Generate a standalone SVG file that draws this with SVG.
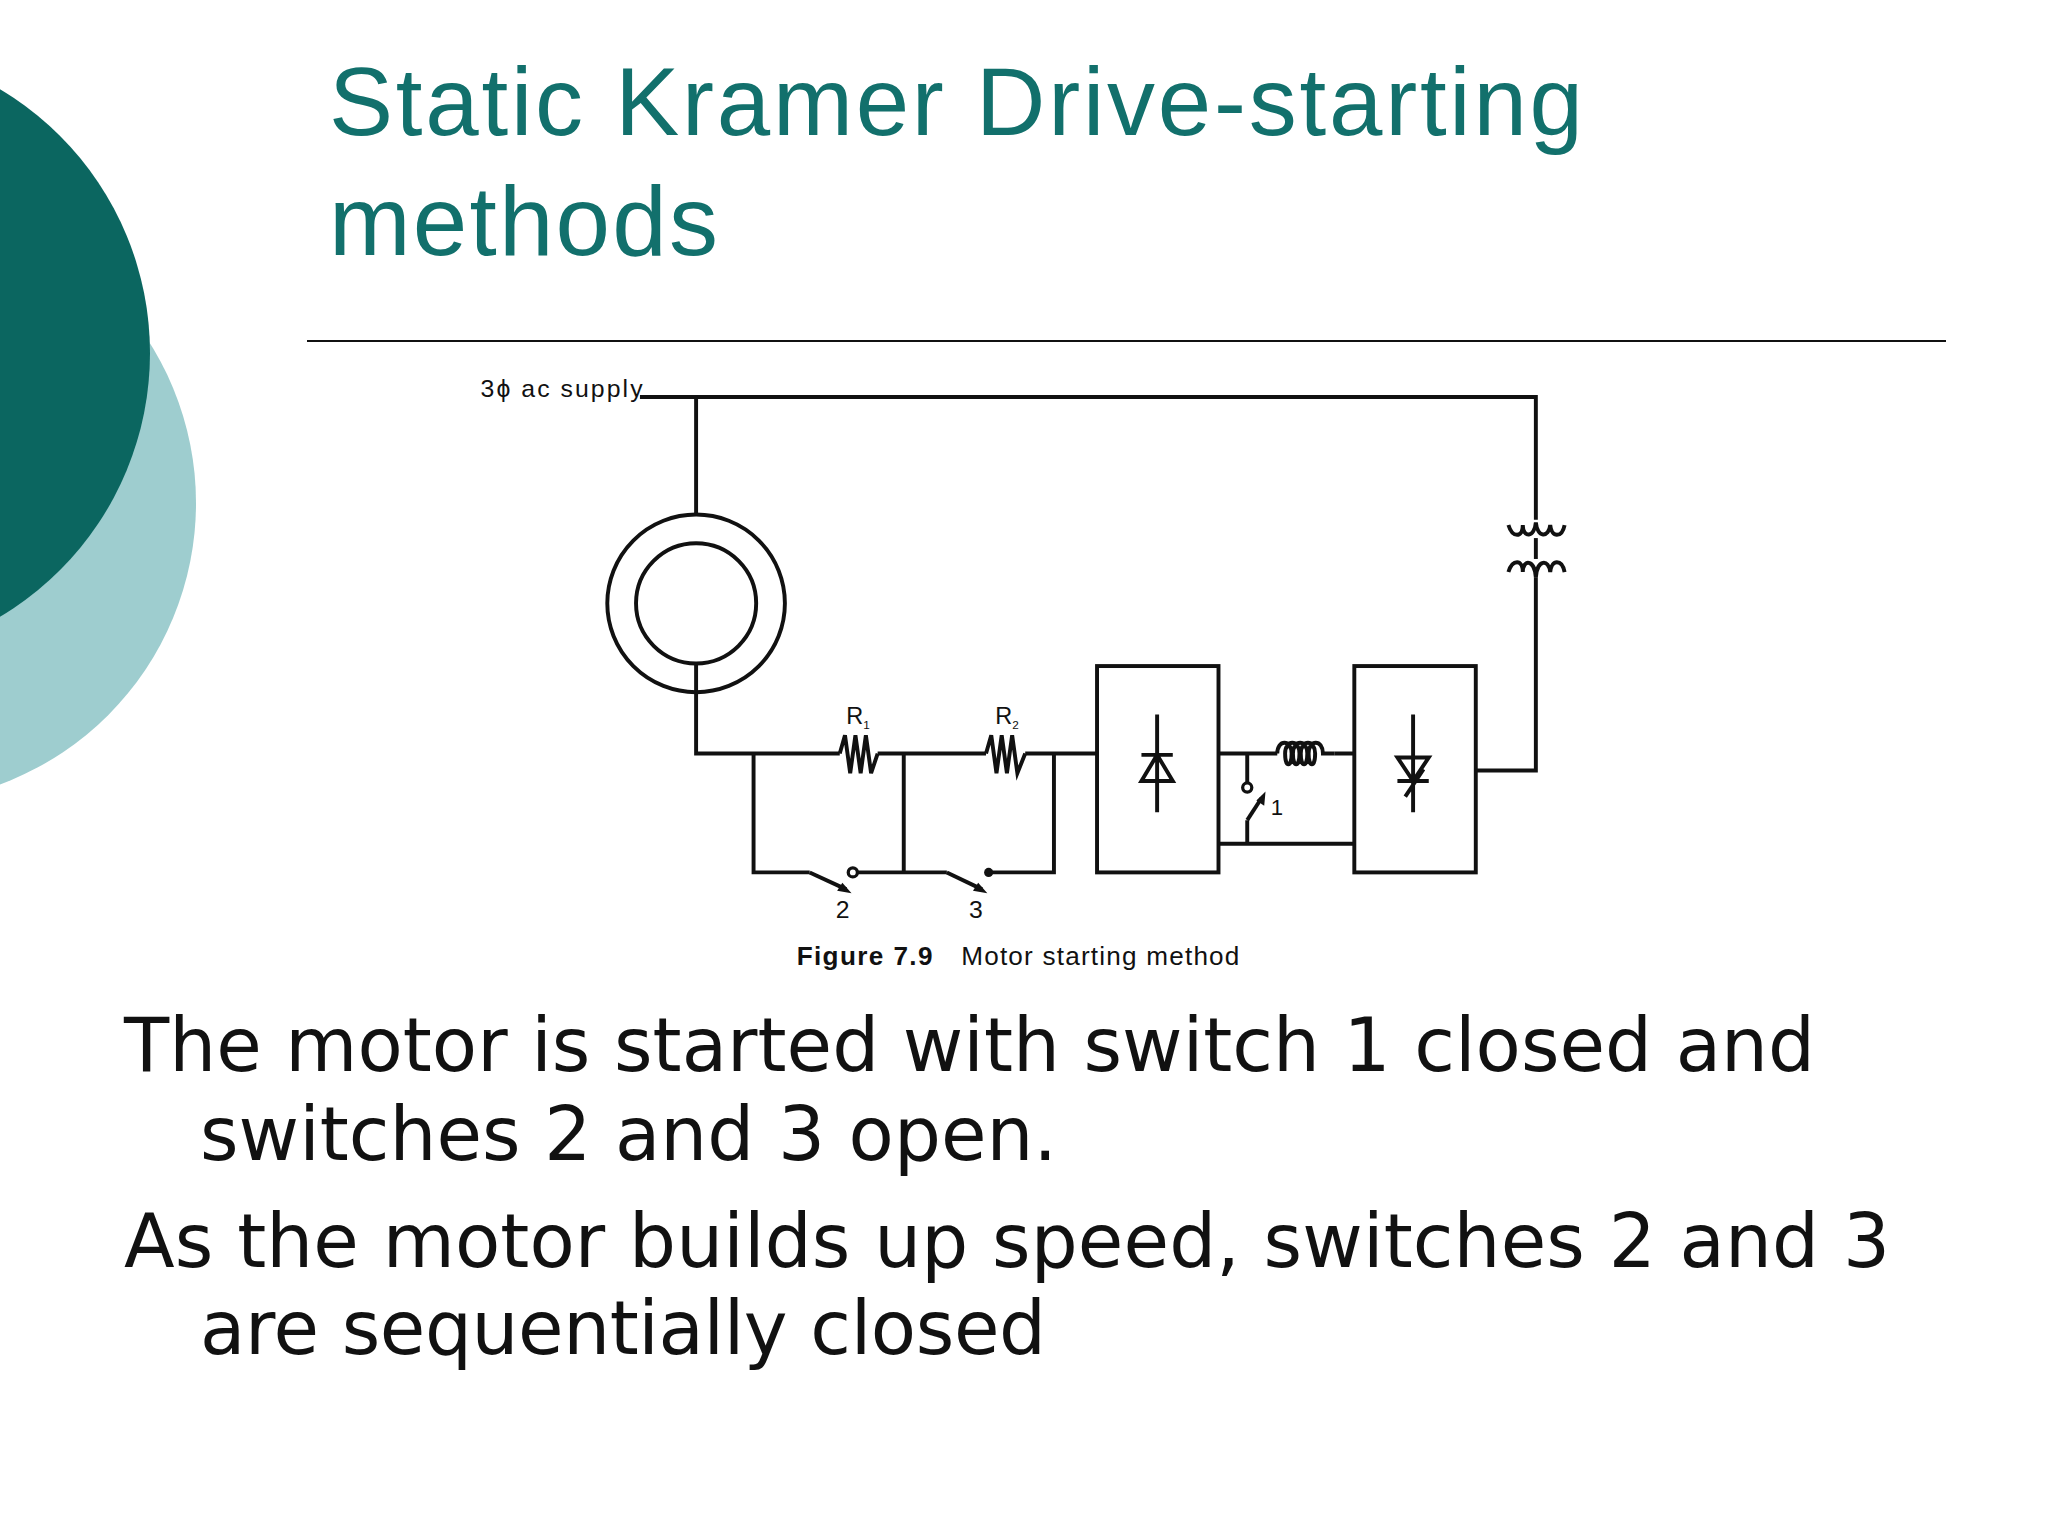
<svg xmlns="http://www.w3.org/2000/svg" width="2048" height="1536" viewBox="0 0 2048 1536">
<style>
.w{fill:none;stroke:#111;stroke-width:3;stroke-linejoin:miter}
.t{font-family:"Liberation Sans",Arial,sans-serif;fill:#111}
.b{font-family:"DejaVu Sans",sans-serif;fill:#111;font-size:74px}
</style>
<rect width="2048" height="1536" fill="#fff"/>
<circle cx="-104" cy="503" r="300" fill="#9ecdcf"/>
<circle cx="-157" cy="353" r="307" fill="#0b6660"/>
<text x="329" y="135" font-family="Liberation Sans,Arial,sans-serif" font-size="96" fill="#12706c" textLength="1254">Static Kramer Drive-starting</text>
<text x="329" y="255" font-family="Liberation Sans,Arial,sans-serif" font-size="98" fill="#12706c" textLength="389">methods</text>
<line x1="307" y1="341" x2="1946" y2="341" stroke="#111" stroke-width="2"/>
<g transform="scale(1.306)">
<g id="connectors">
<path class="w" d="M490 304H1176V398M1176 442V590H1130"/>
<path class="w" d="M533 304V395M533 508V577H643M672 577H755M785 577H840"/>
<path class="w" d="M577 577V668H620M653 668H725M757 668H807V577M692 577V668"/>
<path class="w" d="M933 577H978M1022 577H1037M933 646H1037M955 577V600M955 628V646"/>
</g>
<g id="supply"><text class="t" x="368" y="304" font-size="19" textLength="124">3ϕ ac supply</text></g>
<g id="motor">
<circle class="w" cx="533" cy="462" r="68"/>
<circle class="w" cx="533" cy="462" r="46"/>
</g>
<g id="r1">
<path class="w" d="M643 577L647 563L651 592L655 563L659 592L663 563L667 592L672 577"/>
<text class="t" x="648" y="554" font-size="18">R</text><text class="t" x="661" y="558" font-size="9">1</text>
</g>
<g id="r2">
<path class="w" d="M755 577L759 563L763 592L767 563L771 592L775 563L779 592L785 577"/>
<text class="t" x="762" y="554" font-size="18">R</text><text class="t" x="775" y="558" font-size="9">2</text>
</g>
<g id="sw2">
<path class="w" d="M620 668L648 681"/><path d="M652 684L641 682L645 676Z" fill="#111"/>
<circle cx="653" cy="668" r="3.5" fill="#fff" stroke="#111" stroke-width="2.5"/>
<text class="t" x="640" y="703" font-size="19">2</text>
</g>
<g id="sw3">
<path class="w" d="M725 668L752 681"/><path d="M756 684L745 682L749 676Z" fill="#111"/>
<circle cx="757" cy="668" r="3.5" fill="#111"/>
<text class="t" x="742" y="703" font-size="19">3</text>
</g>
<g id="rectifier">
<rect class="w" x="840" y="510" width="93" height="158"/>
<path class="w" d="M886 547V622M874 578H898M874 598H898L886 578Z"/>
</g>
<g id="choke">
<path class="w" d="M978 577C978 566 989 566 989 577C989 588 984 588 984 577C984 566 995 566 995 577C995 588 990 588 990 577C990 566 1001 566 1001 577C1001 588 996 588 996 577C996 566 1007 566 1007 577C1007 588 1002 588 1002 577C1002 566 1013 566 1013 577L1022 577"/>
</g>
<g id="sw1">
<circle cx="955" cy="603" r="3.5" fill="#fff" stroke="#111" stroke-width="2.5"/>
<path class="w" d="M955 628L966 611"/><path d="M969 606L968 617L962 613Z" fill="#111"/>
<text class="t" x="973" y="624" font-size="17">1</text>
</g>
<g id="inverter">
<rect class="w" x="1037" y="510" width="93" height="158"/>
<path class="w" d="M1082 547V622M1070 598H1094M1070 580H1094L1082 598ZM1076 610L1090 589"/>
</g>
<g id="transformer">
<path class="w" d="M1155 402C1158 412 1166 412 1166 402C1166 412 1175 412 1176 400C1177 412 1186 412 1187 402C1188 412 1196 412 1198 402"/>
<path class="w" d="M1155 438C1158 428 1166 428 1166 438C1166 428 1175 428 1176 442C1177 428 1186 428 1187 438C1188 428 1196 428 1198 438"/>
<path class="w" d="M1176 412V428"/>
</g>
<g id="caption">
<text class="t" x="610" y="739" font-size="20" font-weight="bold" textLength="104">Figure 7.9</text>
<text class="t" x="736" y="739" font-size="20" textLength="213">Motor starting method</text>
</g>
</g>
<text class="b" x="124" y="1071" textLength="1691">The motor is started with switch 1 closed and</text>
<text class="b" x="200" y="1160" textLength="857">switches 2 and 3 open.</text>
<text class="b" x="124" y="1267" textLength="1766">As the motor builds up speed, switches 2 and 3</text>
<text class="b" x="200" y="1354" textLength="846">are sequentially closed</text>
</svg>
